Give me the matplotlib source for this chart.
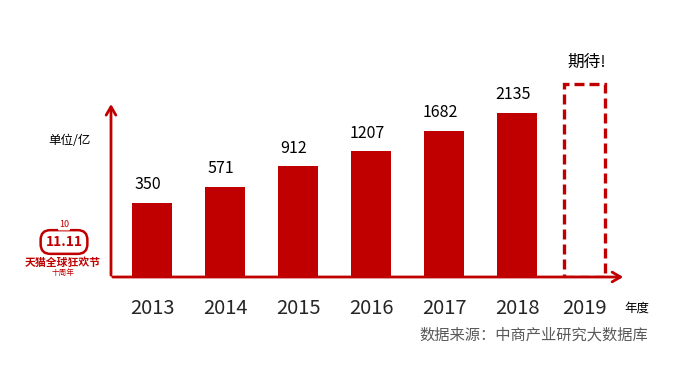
import numpy as np
import matplotlib
matplotlib.use('Agg')
import matplotlib.pyplot as plt

plt.rcParams['font.family'] = ['Noto Sans CJK SC', 'DejaVu Sans']

# data
years      = ['2013', '2014', '2015', '2016', '2017', '2018', '2019']
gmv        = [350, 571, 912, 1207, 1682, 2135]
target_box = 3000          # placeholder height for the 2019 "期待!" bar
unit_label = '单位/亿'
x_label    = '年度'
source     = '数据来源：中商产业研究大数据库'

RED   = '#C00000'
SHIFT = 106                # offset of the sqrt scale used by the original chart


def fwd(v):
    return np.sqrt(np.clip(np.asarray(v, float) + SHIFT, 0, None))


def inv(t):
    return np.asarray(t, float) ** 2 - SHIFT


fig = plt.figure(figsize=(6.74, 3.67), dpi=100)
W, H = 674, 367
ax = fig.add_axes([111 / W, (H - 277) / H, 515 / W, 247.5 / H])
ax.set_yscale('function', functions=(fwd, inv))
ax.set_ylim(-SHIFT, 5000)
ax.set_xlim(-0.562, 6.493)

# the placeholder bar sits a little closer to 2018 than the regular spacing
x = np.arange(len(years)) - np.array([0, 0, 0, 0, 0, 0, 0.07])
vals = np.array(gmv)
ax.bar(x[:len(vals)], vals + SHIFT, bottom=-SHIFT, width=0.55, color=RED, zorder=2)
ax.bar(x[-1], target_box + SHIFT, bottom=-SHIFT, width=0.56, fill=False,
       edgecolor=RED, linestyle=(0, (3, 1.5)), linewidth=2.4, zorder=3)

for xi, v in zip(x, vals):
    ax.annotate(str(v), xy=(xi, v), xytext=(-3, 10), textcoords='offset points',
                ha='center', va='baseline', fontsize=11.5, color='black')
ax.annotate('期待!', xy=(x[-1], target_box), xytext=(1, 12), textcoords='offset points',
            ha='center', va='baseline', fontsize=12, color='black', fontweight='light')

# axes arrows
ax.annotate('', xy=(1.0, 0), xytext=(-0.002, 0), xycoords='axes fraction',
            arrowprops=dict(arrowstyle='->,head_length=0.6,head_width=0.35',
                            color=RED, lw=2.0), annotation_clip=False)
ax.annotate('', xy=(0, 0.71), xytext=(0, -0.004), xycoords='axes fraction',
            arrowprops=dict(arrowstyle='->,head_length=0.6,head_width=0.35',
                            color=RED, lw=2.0), annotation_clip=False)

for s in ax.spines.values():
    s.set_visible(False)
ax.set_yticks([])
ax.yaxis.set_minor_locator(matplotlib.ticker.NullLocator())
ax.set_xticks(x)
ax.set_xticklabels(years, fontsize=14.5, color='#262626')
ax.tick_params(axis='x', length=0, pad=15)

fig.text(48 / W, 1 - 140 / H, unit_label, fontsize=9, va='center', ha='left')
fig.text(624 / W, 1 - 308 / H, x_label, fontsize=9, va='center', ha='left')
fig.text(648 / W, 1 - 335 / H, source, fontsize=11, va='center', ha='right',
         color='#595959')

# Tmall 11.11 logo
fig.text(64 / W, 1 - 242 / H, '11.11', fontsize=10, fontweight='bold', color=RED,
         ha='center', va='center',
         bbox=dict(boxstyle='round,pad=0.35,rounding_size=0.7', fc='white', ec=RED, lw=1.8))
fig.text(64 / W, 1 - 225 / H, '10', fontsize=6.5, color=RED, ha='center', va='center',
         bbox=dict(boxstyle='round,pad=0.1', fc='white', ec='none'))
fig.text(63 / W, 1 - 263 / H, '天猫全球狂欢节', fontsize=7.8, fontweight='bold',
         color=RED, ha='center', va='center')
fig.text(63 / W, 1 - 273 / H, '十周年', fontsize=5.5, color=RED, ha='center', va='center')

fig.savefig('out.png', dpi=100)
